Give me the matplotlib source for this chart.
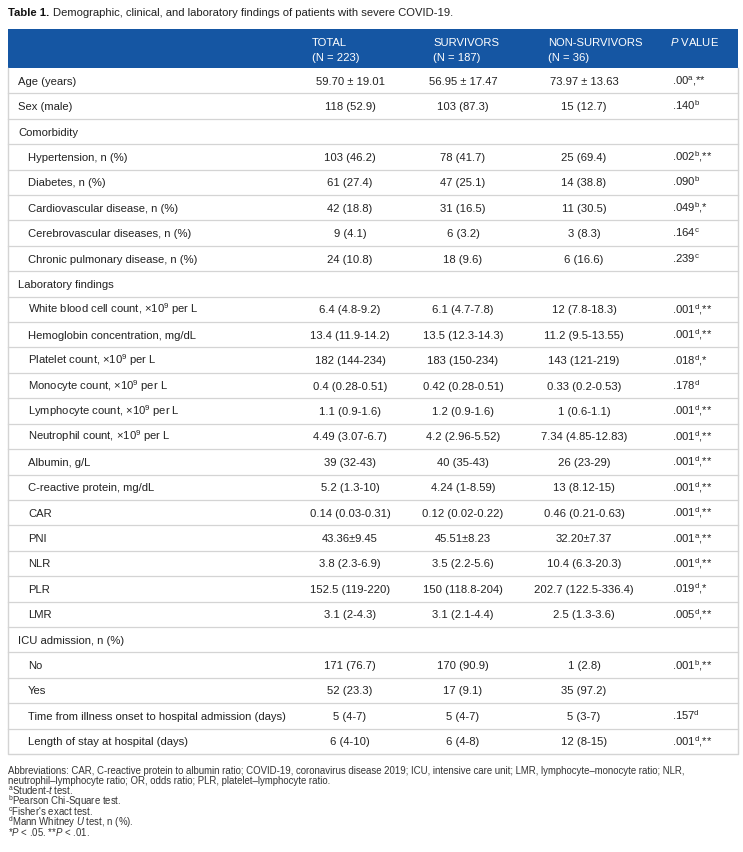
import matplotlib
matplotlib.use("Agg")
import matplotlib.pyplot as plt

plt.rcParams['font.family'] = ['Liberation Sans', 'DejaVu Sans']
plt.rcParams['mathtext.fontset'] = 'custom'
plt.rcParams['mathtext.rm'] = 'Liberation Sans'
plt.rcParams['mathtext.it'] = 'Liberation Sans:italic'
plt.rcParams['mathtext.bf'] = 'Liberation Sans:bold'

title_bold = "Table 1."
title_rest = "Demographic, clinical, and laboratory findings of patients with severe COVID-19."

col_headers = [("TOTAL", "(N = 223)"), ("SURVIVORS", "(N = 187)"),
               ("NON-SURVIVORS", "(N = 36)"), (r"$\it{P}$ VALUE", "")]

labels = [
    "Age (years)", "Sex (male)", "Comorbidity",
    "Hypertension, n (%)", "Diabetes, n (%)", "Cardiovascular disease, n (%)",
    "Cerebrovascular diseases, n (%)", "Chronic pulmonary disease, n (%)",
    "Laboratory findings",
    r"White blood cell count, ×10$^{9}$ per L", "Hemoglobin concentration, mg/dL",
    r"Platelet count, ×10$^{9}$ per L", r"Monocyte count, ×10$^{9}$ per L",
    r"Lymphocyte count, ×10$^{9}$ per L", r"Neutrophil count, ×10$^{9}$ per L",
    "Albumin, g/L", "C-reactive protein, mg/dL", "CAR", "PNI", "NLR", "PLR", "LMR",
    "ICU admission, n (%)", "No", "Yes",
    "Time from illness onset to hospital admission (days)",
    "Length of stay at hospital (days)",
]
indent = [0, 0, 0, 1, 1, 1, 1, 1, 0, 1, 1, 1, 1, 1, 1, 1, 1, 1, 1, 1, 1, 1, 0, 1, 1, 1, 1]

total = ["59.70 ± 19.01", "118 (52.9)", "", "103 (46.2)", "61 (27.4)", "42 (18.8)",
         "9 (4.1)", "24 (10.8)", "", "6.4 (4.8-9.2)", "13.4 (11.9-14.2)", "182 (144-234)",
         "0.4 (0.28-0.51)", "1.1 (0.9-1.6)", "4.49 (3.07-6.7)", "39 (32-43)", "5.2 (1.3-10)",
         "0.14 (0.03-0.31)", "43.36±9.45", "3.8 (2.3-6.9)", "152.5 (119-220)", "3.1 (2-4.3)",
         "", "171 (76.7)", "52 (23.3)", "5 (4-7)", "6 (4-10)"]
survivors = ["56.95 ± 17.47", "103 (87.3)", "", "78 (41.7)", "47 (25.1)", "31 (16.5)",
             "6 (3.2)", "18 (9.6)", "", "6.1 (4.7-7.8)", "13.5 (12.3-14.3)", "183 (150-234)",
             "0.42 (0.28-0.51)", "1.2 (0.9-1.6)", "4.2 (2.96-5.52)", "40 (35-43)", "4.24 (1-8.59)",
             "0.12 (0.02-0.22)", "45.51±8.23", "3.5 (2.2-5.6)", "150 (118.8-204)", "3.1 (2.1-4.4)",
             "", "170 (90.9)", "17 (9.1)", "5 (4-7)", "6 (4-8)"]
nonsurvivors = ["73.97 ± 13.63", "15 (12.7)", "", "25 (69.4)", "14 (38.8)", "11 (30.5)",
                "3 (8.3)", "6 (16.6)", "", "12 (7.8-18.3)", "11.2 (9.5-13.55)", "143 (121-219)",
                "0.33 (0.2-0.53)", "1 (0.6-1.1)", "7.34 (4.85-12.83)", "26 (23-29)", "13 (8.12-15)",
                "0.46 (0.21-0.63)", "32.20±7.37", "10.4 (6.3-20.3)", "202.7 (122.5-336.4)", "2.5 (1.3-3.6)",
                "", "1 (2.8)", "35 (97.2)", "5 (3-7)", "12 (8-15)"]
p_values = [".00", ".140", "", ".002", ".090", ".049", ".164", ".239", "", ".001", ".001", ".018",
            ".178", ".001", ".001", ".001", ".001", ".001", ".001", ".001", ".019", ".005",
            "", ".001", "", ".157", ".001"]
p_tests = ["a", "b", "", "b", "b", "b", "c", "c", "", "d", "d", "d", "d", "d", "d", "d", "d",
           "d", "a", "d", "d", "d", "", "b", "", "d", "d"]
p_stars = ["**", "", "", "**", "", "*", "", "", "", "**", "**", "*", "", "**", "**", "**", "**",
           "**", "**", "**", "*", "**", "", "**", "", "", "**"]

footnotes = [
    "Abbreviations: CAR, C-reactive protein to albumin ratio; COVID-19, coronavirus disease 2019; ICU, intensive care unit; LMR, lymphocyte–monocyte ratio; NLR,",
    "neutrophil–lymphocyte ratio; OR, odds ratio; PLR, platelet–lymphocyte ratio.",
    r"$^{\mathrm{a}}$Student-$\it{t}$ test.",
    r"$^{\mathrm{b}}$Pearson Chi-Square test.",
    r"$^{\mathrm{c}}$Fisher's exact test.",
    r"$^{\mathrm{d}}$Mann Whitney $\it{U}$ test, n (%).",
    r"*$\it{P}$ < .05. **$\it{P}$ < .01.",
]

W, H = 743, 852
fig = plt.figure(figsize=(W / 100, H / 100), dpi=100)
ax = fig.add_axes([0, 0, 1, 1])
ax.set_xlim(0, W)
ax.set_ylim(H, 0)
ax.axis('off')

blue = '#1556a3'
txt = '#222222'
grid = '#d4d4d4'
fs = 8.1
fs_t = 8.1
fs_f = 6.9

# title
t1 = ax.text(8, 15.5, title_bold, fontsize=fs_t, fontweight='bold', color='#111111', va='baseline')
fig.canvas.draw()
bb = t1.get_window_extent()
ax.text(bb.x1 + 4, H - 15.5, title_rest, fontsize=fs_t, color='#222222', va='baseline',
        transform=None)

left, right = 8, 738
top_h, bot_h = 29, 68
ax.add_patch(plt.Rectangle((left, top_h), right - left, bot_h - top_h, color=blue, lw=0))

col_x = [312, 433, 548, 670]
for (l1, l2), x in zip(col_headers, col_x):
    ax.text(x, 46, l1, fontsize=fs, color='white', va='baseline', ha='left')
    if l2:
        ax.text(x, 61, l2, fontsize=fs, color='white', va='baseline', ha='left')

n = len(labels)
table_bottom = 754
rh = (table_bottom - bot_h) / n
centers = [350, 463, 584]
for i in range(n):
    y0 = bot_h + i * rh
    yb = y0 + rh / 2 + 4
    ax.text(18 + 10 * indent[i], yb, labels[i], fontsize=fs, color=txt, va='baseline', ha='left')
    for vals, cx in zip([total, survivors, nonsurvivors], centers):
        if vals[i]:
            ax.text(cx, yb, vals[i], fontsize=fs, color=txt, va='baseline', ha='center')
    if p_values[i]:
        s = p_values[i]
        if p_tests[i]:
            s += r"$^{\mathrm{" + p_tests[i] + "}}$"
        if p_stars[i]:
            s += "," + p_stars[i]
        ax.text(672, yb, s, fontsize=fs, color=txt, va='baseline', ha='left')
    if i < n - 1:
        ax.plot([left, right], [y0 + rh, y0 + rh], color=grid, lw=0.9)

# outer border
ax.plot([left, left, right, right], [bot_h, table_bottom, table_bottom, bot_h], color=grid, lw=1.0)

fy = 774
for line in footnotes:
    ax.text(8, fy, line, fontsize=fs_f, color='#333333', va='baseline', ha='left')
    fy += 10.4

fig.savefig("out.png", dpi=100)
